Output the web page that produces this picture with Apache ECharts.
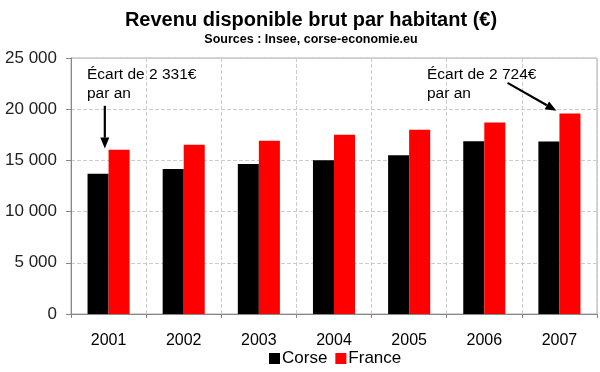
<!DOCTYPE html>
<html>
<head>
<meta charset="utf-8">
<script src="https://cdn.jsdelivr.net/npm/echarts@6/dist/echarts.min.js"></script>
<style>html,body{margin:0;padding:0;background:#fff}#c{width:600px;height:372px}</style>
</head>
<body>
<div id="c"></div>
<script>
var years = ['2001','2002','2003','2004','2005','2006','2007'];
var corse = [13700, 14170, 14660, 15010, 15500, 16860, 16856];
var france = [16031, 16540, 16930, 17510, 18000, 18710, 19580];
var yTicks = [0, 5000, 10000, 15000, 20000, 25000];
var titleText = 'Revenu disponible brut par habitant (€)';
var subText = 'Sources : Insee, corse-economie.eu';
var note1 = 'Écart de 2 331€\npar an';
var note2 = 'Écart de 2 724€\npar an';
// arrows: [category position (fractional index), value] start -> end
var arrow1 = [[-0.05, 20330], [-0.05, 16150]];
var arrow2 = [[5.31, 22570], [5.96, 19850]];

var FONT = '"Liberation Sans", Arial, sans-serif';
var chart = echarts.init(document.getElementById('c'), null, {renderer: 'canvas'});
function fmt(v){ return String(v).replace(/\B(?=(\d{3})+(?!\d))/g, ' '); }

chart.setOption({
  animation: false,
  backgroundColor: '#fff',
  textStyle: {fontFamily: FONT},
  title: {
    text: titleText, subtext: subText, left: 306, textAlign: 'center', top: 5, itemGap: 3,
    textStyle: {fontFamily: FONT, fontSize: 20, fontWeight: 'bold', color: '#000'},
    subtextStyle: {fontFamily: FONT, fontSize: 12.5, fontWeight: 'bold', color: '#000'}
  },
  legend: {
    data: ['Corse', 'France'], left: 264, bottom: 0, itemWidth: 11, itemHeight: 11, itemGap: 8,
    icon: 'rect', textStyle: {fontFamily: FONT, fontSize: 17, color: '#000', padding: [0,0,0,-3]}
  },
  grid: {left: 71, right: 3, top: 58, bottom: 58, show: true, borderColor: '#aaa', borderWidth: 1},
  xAxis: {
    type: 'category', data: years,
    axisLine: {lineStyle: {color: '#888'}},
    axisTick: {show: true, length: 4, lineStyle: {color: '#888'}},
    axisLabel: {fontFamily: FONT, fontSize: 16, color: '#000', margin: 19},
    splitLine: {show: true, lineStyle: {type: 'dashed', color: '#ccc'}}
  },
  yAxis: {
    type: 'value', min: yTicks[0], max: yTicks[yTicks.length-1], interval: yTicks[1]-yTicks[0],
    axisLine: {show: true, lineStyle: {color: '#888'}},
    axisTick: {show: true, length: 5, lineStyle: {color: '#888'}},
    axisLabel: {fontFamily: FONT, fontSize: 17, color: '#222', margin: 14, formatter: fmt},
    splitLine: {show: true, lineStyle: {type: 'dashed', color: '#ccc'}}
  },
  series: [
    {name: 'Corse', type: 'bar', data: corse, itemStyle: {color: '#000'}, barGap: '0%', barCategoryGap: '44%'},
    {name: 'France', type: 'bar', data: france, itemStyle: {color: '#ff0000'}, barGap: '0%', barCategoryGap: '44%'}
  ]
});

function toPx(p){
  var c0 = chart.convertToPixel({gridIndex: 0}, [0, p[1]]);
  var c1 = chart.convertToPixel({gridIndex: 0}, [1, p[1]]);
  return [c0[0] + p[0] * (c1[0] - c0[0]), c0[1]];
}
function arrowGraphics(a){
  var s = toPx(a[0]), e = toPx(a[1]);
  var dx = e[0]-s[0], dy = e[1]-s[1], L = Math.sqrt(dx*dx+dy*dy);
  var ux = dx/L, uy = dy/L, hl = 11, hw = 4.5;
  var bx = e[0]-ux*hl, by = e[1]-uy*hl;
  return [
    {type: 'line', shape: {x1: s[0], y1: s[1], x2: bx, y2: by}, style: {stroke: '#000', lineWidth: 2.2}},
    {type: 'polygon', shape: {points: [[e[0], e[1]], [bx - uy*hw, by + ux*hw], [bx + uy*hw, by - ux*hw]]}, style: {fill: '#000'}}
  ];
}
var g = [
  {type: 'text', left: 87, top: 65, style: {text: note1, font: '15.5px ' + FONT, fill: '#000', lineHeight: 19}},
  {type: 'text', left: 427, top: 65, style: {text: note2, font: '15.5px ' + FONT, fill: '#000', lineHeight: 19}}
].concat(arrowGraphics(arrow1), arrowGraphics(arrow2));
chart.setOption({graphic: g});
</script>
</body>
</html>
